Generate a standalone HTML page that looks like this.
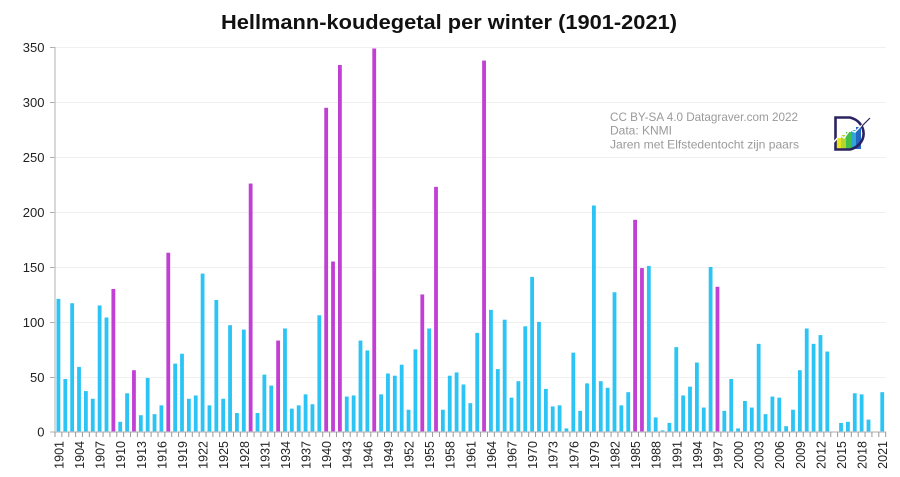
<!DOCTYPE html>
<html>
<head>
<meta charset="utf-8">
<style>
html,body{margin:0;padding:0;background:#fff;}
svg{display:block;}
text{font-family:"Liberation Sans",sans-serif;}
</style>
</head>
<body>
<svg width="900" height="477" viewBox="0 0 900 477" xmlns="http://www.w3.org/2000/svg">
<rect width="900" height="477" fill="#fff"/>
<!-- title -->
<text x="449" y="29" text-anchor="middle" font-size="20" font-weight="bold" fill="#111" textLength="456" lengthAdjust="spacingAndGlyphs">Hellmann-koudegetal per winter (1901-2021)</text>
<!-- gridlines -->
<g stroke="#f0f0f0" stroke-width="1">
<line x1="55" x2="886" y1="47.5" y2="47.5"/>
<line x1="55" x2="886" y1="102.5" y2="102.5"/>
<line x1="55" x2="886" y1="157.5" y2="157.5"/>
<line x1="55" x2="886" y1="212.5" y2="212.5"/>
<line x1="55" x2="886" y1="267.5" y2="267.5"/>
<line x1="55" x2="886" y1="322.5" y2="322.5"/>
<line x1="55" x2="886" y1="377.5" y2="377.5"/>
</g>
<!-- y ticks -->
<g stroke="#b0b0b0" stroke-width="1">
<line x1="50" x2="55" y1="47.5" y2="47.5"/>
<line x1="50" x2="55" y1="102.5" y2="102.5"/>
<line x1="50" x2="55" y1="157.5" y2="157.5"/>
<line x1="50" x2="55" y1="212.5" y2="212.5"/>
<line x1="50" x2="55" y1="267.5" y2="267.5"/>
<line x1="50" x2="55" y1="322.5" y2="322.5"/>
<line x1="50" x2="55" y1="377.5" y2="377.5"/>
<line x1="50" x2="55" y1="432" y2="432"/>
</g>
<!-- y labels -->
<g font-size="13" fill="#222" text-anchor="end">
<text x="44.5" y="52">350</text>
<text x="44.5" y="107">300</text>
<text x="44.5" y="162">250</text>
<text x="44.5" y="217">200</text>
<text x="44.5" y="272">150</text>
<text x="44.5" y="327">100</text>
<text x="44.5" y="382">50</text>
<text x="44.5" y="436.5">0</text>
</g>
<!-- bars -->
<g transform="matrix(1 0 0 -1.098 0 431.7)">
<g fill="#2bc4f5">
<rect x="56.53" y="0" width="3.8" height="121"/>
<rect x="63.40" y="0" width="3.8" height="48"/>
<rect x="70.26" y="0" width="3.8" height="117"/>
<rect x="77.13" y="0" width="3.8" height="59"/>
<rect x="83.99" y="0" width="3.8" height="37"/>
<rect x="90.86" y="0" width="3.8" height="30"/>
<rect x="97.72" y="0" width="3.8" height="115"/>
<rect x="104.59" y="0" width="3.8" height="104"/>
<rect x="118.32" y="0" width="3.8" height="9"/>
<rect x="125.18" y="0" width="3.8" height="35"/>
<rect x="138.91" y="0" width="3.8" height="15"/>
<rect x="145.78" y="0" width="3.8" height="49"/>
<rect x="152.64" y="0" width="3.8" height="16"/>
<rect x="159.51" y="0" width="3.8" height="24"/>
<rect x="173.24" y="0" width="3.8" height="62"/>
<rect x="180.10" y="0" width="3.8" height="71"/>
<rect x="186.97" y="0" width="3.8" height="30"/>
<rect x="193.83" y="0" width="3.8" height="33"/>
<rect x="200.70" y="0" width="3.8" height="144"/>
<rect x="207.56" y="0" width="3.8" height="24"/>
<rect x="214.43" y="0" width="3.8" height="120"/>
<rect x="221.29" y="0" width="3.8" height="30"/>
<rect x="228.16" y="0" width="3.8" height="97"/>
<rect x="235.02" y="0" width="3.8" height="17"/>
<rect x="241.89" y="0" width="3.8" height="93"/>
<rect x="255.62" y="0" width="3.8" height="17"/>
<rect x="262.48" y="0" width="3.8" height="52"/>
<rect x="269.35" y="0" width="3.8" height="42"/>
<rect x="283.08" y="0" width="3.8" height="94"/>
<rect x="289.94" y="0" width="3.8" height="21"/>
<rect x="296.81" y="0" width="3.8" height="24"/>
<rect x="303.67" y="0" width="3.8" height="34"/>
<rect x="310.54" y="0" width="3.8" height="25"/>
<rect x="317.40" y="0" width="3.8" height="106"/>
<rect x="344.86" y="0" width="3.8" height="32"/>
<rect x="351.73" y="0" width="3.8" height="33"/>
<rect x="358.59" y="0" width="3.8" height="83"/>
<rect x="365.46" y="0" width="3.8" height="74"/>
<rect x="379.19" y="0" width="3.8" height="34"/>
<rect x="386.05" y="0" width="3.8" height="53"/>
<rect x="392.92" y="0" width="3.8" height="51"/>
<rect x="399.78" y="0" width="3.8" height="61"/>
<rect x="406.65" y="0" width="3.8" height="20"/>
<rect x="413.51" y="0" width="3.8" height="75"/>
<rect x="427.24" y="0" width="3.8" height="94"/>
<rect x="440.97" y="0" width="3.8" height="20"/>
<rect x="447.84" y="0" width="3.8" height="51"/>
<rect x="454.70" y="0" width="3.8" height="54"/>
<rect x="461.57" y="0" width="3.8" height="43"/>
<rect x="468.43" y="0" width="3.8" height="26"/>
<rect x="475.30" y="0" width="3.8" height="90"/>
<rect x="489.03" y="0" width="3.8" height="111"/>
<rect x="495.89" y="0" width="3.8" height="57"/>
<rect x="502.76" y="0" width="3.8" height="102"/>
<rect x="509.62" y="0" width="3.8" height="31"/>
<rect x="516.49" y="0" width="3.8" height="46"/>
<rect x="523.35" y="0" width="3.8" height="96"/>
<rect x="530.22" y="0" width="3.8" height="141"/>
<rect x="537.08" y="0" width="3.8" height="100"/>
<rect x="543.95" y="0" width="3.8" height="39"/>
<rect x="550.81" y="0" width="3.8" height="23"/>
<rect x="557.68" y="0" width="3.8" height="24"/>
<rect x="564.54" y="0" width="3.8" height="3"/>
<rect x="571.41" y="0" width="3.8" height="72"/>
<rect x="578.27" y="0" width="3.8" height="19"/>
<rect x="585.14" y="0" width="3.8" height="44"/>
<rect x="592.00" y="0" width="3.8" height="206"/>
<rect x="598.87" y="0" width="3.8" height="46"/>
<rect x="605.73" y="0" width="3.8" height="40"/>
<rect x="612.60" y="0" width="3.8" height="127"/>
<rect x="619.46" y="0" width="3.8" height="24"/>
<rect x="626.33" y="0" width="3.8" height="36"/>
<rect x="646.92" y="0" width="3.8" height="151"/>
<rect x="653.79" y="0" width="3.8" height="13"/>
<rect x="660.65" y="0" width="3.8" height="1.2"/>
<rect x="667.52" y="0" width="3.8" height="8"/>
<rect x="674.38" y="0" width="3.8" height="77"/>
<rect x="681.25" y="0" width="3.8" height="33"/>
<rect x="688.11" y="0" width="3.8" height="41"/>
<rect x="694.98" y="0" width="3.8" height="63"/>
<rect x="701.84" y="0" width="3.8" height="22"/>
<rect x="708.71" y="0" width="3.8" height="150"/>
<rect x="722.44" y="0" width="3.8" height="19"/>
<rect x="729.30" y="0" width="3.8" height="48"/>
<rect x="736.17" y="0" width="3.8" height="3"/>
<rect x="743.03" y="0" width="3.8" height="28"/>
<rect x="749.90" y="0" width="3.8" height="22"/>
<rect x="756.76" y="0" width="3.8" height="80"/>
<rect x="763.63" y="0" width="3.8" height="16"/>
<rect x="770.49" y="0" width="3.8" height="32"/>
<rect x="777.36" y="0" width="3.8" height="31"/>
<rect x="784.22" y="0" width="3.8" height="5"/>
<rect x="791.09" y="0" width="3.8" height="20"/>
<rect x="797.95" y="0" width="3.8" height="56"/>
<rect x="804.82" y="0" width="3.8" height="94"/>
<rect x="811.68" y="0" width="3.8" height="80"/>
<rect x="818.55" y="0" width="3.8" height="88"/>
<rect x="825.41" y="0" width="3.8" height="73"/>
<rect x="839.14" y="0" width="3.8" height="8"/>
<rect x="846.01" y="0" width="3.8" height="9"/>
<rect x="852.87" y="0" width="3.8" height="35"/>
<rect x="859.74" y="0" width="3.8" height="34"/>
<rect x="866.60" y="0" width="3.8" height="11"/>
<rect x="880.33" y="0" width="3.8" height="36"/>
</g>
<g fill="#c23fd5">
<rect x="111.45" y="0" width="3.8" height="130"/>
<rect x="132.05" y="0" width="3.8" height="56"/>
<rect x="166.37" y="0" width="3.8" height="163"/>
<rect x="248.75" y="0" width="3.8" height="226"/>
<rect x="276.21" y="0" width="3.8" height="83"/>
<rect x="324.27" y="0" width="3.8" height="295"/>
<rect x="331.13" y="0" width="3.8" height="155"/>
<rect x="338.00" y="0" width="3.8" height="334"/>
<rect x="372.32" y="0" width="3.8" height="349"/>
<rect x="420.38" y="0" width="3.8" height="125"/>
<rect x="434.11" y="0" width="3.8" height="223"/>
<rect x="482.16" y="0" width="3.8" height="338"/>
<rect x="633.19" y="0" width="3.8" height="193"/>
<rect x="640.06" y="0" width="3.8" height="149"/>
<rect x="715.57" y="0" width="3.8" height="132"/>
</g>
</g>
<!-- axes -->
<line x1="55" x2="55" y1="47" y2="432" stroke="#bdbdbd" stroke-width="1.2"/>
<line x1="55" x2="886" y1="432" y2="432" stroke="#bdbdbd" stroke-width="1.2"/>
<line x1="54.5" x2="887" y1="434.5" y2="434.5" stroke="#999" stroke-width="5" stroke-dasharray="1 5.865"/>
<!-- x labels -->
<g font-size="12.5" fill="#222" text-anchor="end">
<text transform="translate(63.4 441) rotate(-90)">1901</text>
<text transform="translate(84.0 441) rotate(-90)">1904</text>
<text transform="translate(104.6 441) rotate(-90)">1907</text>
<text transform="translate(125.2 441) rotate(-90)">1910</text>
<text transform="translate(145.8 441) rotate(-90)">1913</text>
<text transform="translate(166.4 441) rotate(-90)">1916</text>
<text transform="translate(187.0 441) rotate(-90)">1919</text>
<text transform="translate(207.6 441) rotate(-90)">1922</text>
<text transform="translate(228.2 441) rotate(-90)">1925</text>
<text transform="translate(248.8 441) rotate(-90)">1928</text>
<text transform="translate(269.4 441) rotate(-90)">1931</text>
<text transform="translate(290.0 441) rotate(-90)">1934</text>
<text transform="translate(310.6 441) rotate(-90)">1937</text>
<text transform="translate(331.1 441) rotate(-90)">1940</text>
<text transform="translate(351.7 441) rotate(-90)">1943</text>
<text transform="translate(372.3 441) rotate(-90)">1946</text>
<text transform="translate(392.9 441) rotate(-90)">1949</text>
<text transform="translate(413.5 441) rotate(-90)">1952</text>
<text transform="translate(434.1 441) rotate(-90)">1955</text>
<text transform="translate(454.7 441) rotate(-90)">1958</text>
<text transform="translate(475.3 441) rotate(-90)">1961</text>
<text transform="translate(495.9 441) rotate(-90)">1964</text>
<text transform="translate(516.5 441) rotate(-90)">1967</text>
<text transform="translate(537.1 441) rotate(-90)">1970</text>
<text transform="translate(557.7 441) rotate(-90)">1973</text>
<text transform="translate(578.3 441) rotate(-90)">1976</text>
<text transform="translate(598.9 441) rotate(-90)">1979</text>
<text transform="translate(619.5 441) rotate(-90)">1982</text>
<text transform="translate(640.1 441) rotate(-90)">1985</text>
<text transform="translate(660.7 441) rotate(-90)">1988</text>
<text transform="translate(681.3 441) rotate(-90)">1991</text>
<text transform="translate(701.8 441) rotate(-90)">1994</text>
<text transform="translate(722.4 441) rotate(-90)">1997</text>
<text transform="translate(743.0 441) rotate(-90)">2000</text>
<text transform="translate(763.6 441) rotate(-90)">2003</text>
<text transform="translate(784.2 441) rotate(-90)">2006</text>
<text transform="translate(804.8 441) rotate(-90)">2009</text>
<text transform="translate(825.4 441) rotate(-90)">2012</text>
<text transform="translate(846.0 441) rotate(-90)">2015</text>
<text transform="translate(866.6 441) rotate(-90)">2018</text>
<text transform="translate(887.2 441) rotate(-90)">2021</text>
</g>
<!-- watermark -->
<g font-size="12" fill="#9a9a9a">
<text x="610" y="121" textLength="188" lengthAdjust="spacingAndGlyphs">CC BY-SA 4.0 Datagraver.com  2022</text>
<text x="610" y="134.7" textLength="62" lengthAdjust="spacingAndGlyphs">Data: KNMI</text>
<text x="610" y="148.4" textLength="189" lengthAdjust="spacingAndGlyphs">Jaren met Elfstedentocht zijn paars</text>
</g>
<!-- logo -->
<g>
<rect x="836" y="138" width="5" height="11" fill="#e6e51e"/>
<rect x="841" y="135" width="5" height="14" fill="#b2d634"/>
<rect x="846" y="132" width="5" height="17" fill="#44bf4a"/>
<rect x="851" y="130" width="5" height="19" fill="#2fa6d6"/>
<rect x="856" y="127" width="5" height="22" fill="#2467c2"/>
<path d="M835.5 117.5 L850 117.5 A18 16.5 0 0 1 850 149.5 L835.5 149.5 Z" fill="none" stroke="#2b2361" stroke-width="2.6"/>
<path d="M833 143 L840 135 L844 138 L850 130 L855 132 L861 126 L870 118" fill="none" stroke="#ffffff" stroke-width="1.4"/>
<path d="M862 126 L870 118" fill="none" stroke="#2b2361" stroke-width="1.2"/>
</g>
</svg>
</body>
</html>
